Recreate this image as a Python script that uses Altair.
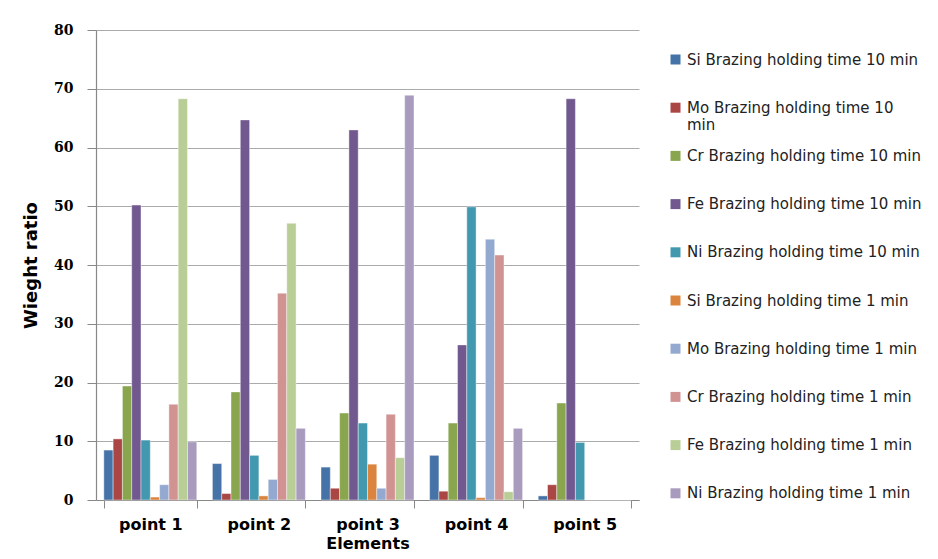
import altair as alt
import pandas as pd

points = ["point 1", "point 2", "point 3", "point 4", "point 5"]
series = [
    "Si Brazing holding time 10 min",
    "Mo Brazing holding time 10 min",
    "Cr Brazing holding time 10 min",
    "Fe Brazing holding time 10 min",
    "Ni Brazing holding time 10 min",
    "Si Brazing holding time 1 min",
    "Mo Brazing holding time 1 min",
    "Cr Brazing holding time 1 min",
    "Fe Brazing holding time 1 min",
    "Ni Brazing holding time 1 min",
]
colors = ["#4572A7", "#AA4643", "#89A54E", "#71588F", "#4198AF",
          "#DB843D", "#93A9CF", "#D19392", "#B9CD96", "#A99BBD"]

si_10 = [8.5, 6.2, 5.6, 7.6, 0.7]
mo_10 = [10.4, 1.1, 2.0, 1.5, 2.6]
cr_10 = [19.4, 18.4, 14.8, 13.1, 16.5]
fe_10 = [50.2, 64.7, 63.0, 26.4, 68.3]
ni_10 = [10.2, 7.6, 13.1, 49.9, 9.8]
si_1 = [0.5, 0.7, 6.1, 0.4, 0.0]
mo_1 = [2.6, 3.5, 2.0, 44.4, 0.0]
cr_1 = [16.3, 35.2, 14.6, 41.7, 0.0]
fe_1 = [68.3, 47.1, 7.2, 1.4, 0.0]
ni_1 = [9.9, 12.2, 68.9, 12.2, 0.0]

all_values = [si_10, mo_10, cr_10, fe_10, ni_10, si_1, mo_1, cr_1, fe_1, ni_1]

rows = []
for name, vals in zip(series, all_values):
    for p, v in zip(points, vals):
        rows.append({"point": p, "series": name, "value": v})
df = pd.DataFrame(rows)

bars = alt.Chart(df).mark_bar(stroke="white", strokeWidth=0.6, strokeOpacity=0.7).encode(
    x=alt.X("point:N", sort=points,
            scale=alt.Scale(paddingInner=0.144, paddingOuter=0.072),
            axis=alt.Axis(title="Elements", labelAngle=0, tickBand="extent",
                          tickSize=8, labelPadding=8,
                          labelFont="DejaVu Sans", labelFontSize=16, labelFontWeight="bold",
                          labelColor="#000",
                          titleFont="DejaVu Sans", titleFontSize=16, titleFontWeight="bold",
                          titleX=271.5, titleY=43, titleBaseline="middle", titleColor="#000",
                          grid=False)),
    xOffset=alt.XOffset("series:N", sort=series,
                        scale=alt.Scale(paddingInner=0, paddingOuter=0)),
    y=alt.Y("value:Q", scale=alt.Scale(domain=[0, 80]),
            axis=alt.Axis(title="Wieght ratio", values=[0, 10, 20, 30, 40, 50, 60, 70, 80],
                          tickSize=9, labelPadding=14,
                          labelFont="DejaVu Serif", labelFontSize=14, labelFontWeight="bold",
                          labelColor="#000",
                          titleFont="DejaVu Sans", titleFontSize=18, titleFontWeight="bold",
                          titleColor="#000", titleX=-65, titleY=235,
                          titleAngle=270, titleAlign="center", titleBaseline="middle")),
    color=alt.Color("series:N", sort=series,
                    scale=alt.Scale(domain=series, range=colors),
                    legend=alt.Legend(title=None, orient="none", legendX=572, legendY=22,
                                      symbolType="square", symbolSize=100, symbolStrokeWidth=0,
                                      labelFont="DejaVu Sans", labelFontSize=15, labelColor="#222",
                                      labelLimit=300, labelOffset=4, rowPadding=15.2,
                                      gridAlign="all",
                                      labelExpr="datum.label == 'Mo Brazing holding time 10 min' ? ['Mo Brazing holding time 10', 'min'] : datum.label")),
)

chart = bars.properties(
    width=543, height=470,
    autosize=alt.AutoSizeParams(type="none"),
    padding={"left": 88, "top": 22, "right": 291, "bottom": 51},
).configure_view(strokeWidth=0).configure_axis(
    domainColor="#888", tickColor="#888", gridColor="#aaa", gridWidth=1.2, domainWidth=1.2
)

chart.save("out.html", embed_options={"renderer": "svg", "actions": False})
